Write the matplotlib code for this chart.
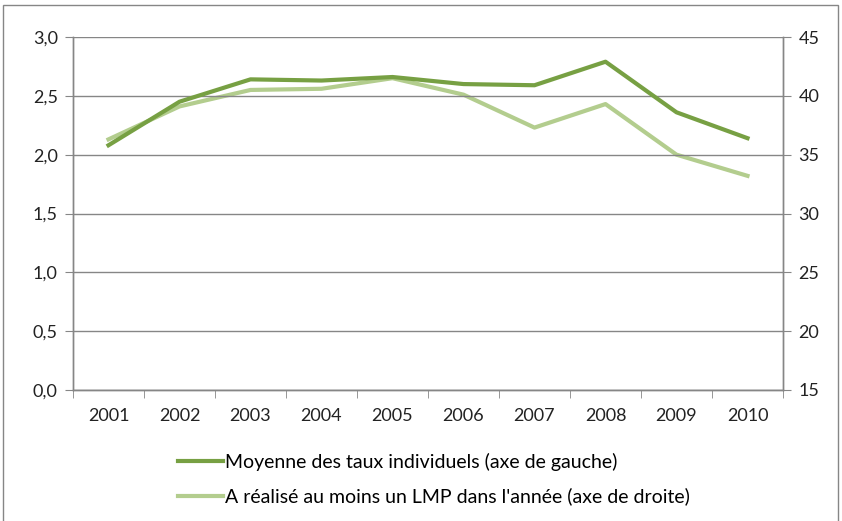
import numpy as np
import matplotlib
matplotlib.use('Agg')
import matplotlib.pyplot as plt
from matplotlib.patches import Rectangle

plt.rcParams['font.family'] = ['Lato', 'DejaVu Sans']

annees = ['2001', '2002', '2003', '2004', '2005', '2006', '2007', '2008', '2009', '2010']
moyenne_taux = [2.08, 2.45, 2.64, 2.63, 2.66, 2.60, 2.59, 2.79, 2.36, 2.14]
lmp_annee = [36.3, 39.1, 40.5, 40.6, 41.5, 40.1, 37.3, 39.3, 35.0, 33.2]

couleur_fonce = '#77a043'
couleur_clair = '#b3cd8e'
gris = '#868686'

fig = plt.figure(figsize=(8.42, 5.21), dpi=100)
ax = fig.add_axes([73 / 842, 131 / 521, 710 / 842, 353 / 521])
ax2 = ax.twinx()

x = np.arange(len(annees))
l1, = ax.plot(x, moyenne_taux, color=couleur_fonce, lw=3, solid_joinstyle='round',
              label='Moyenne des taux individuels (axe de gauche)', zorder=3)
l2, = ax2.plot(x, lmp_annee, color=couleur_clair, lw=3, solid_joinstyle='round',
               label="A réalisé au moins un LMP dans l'année (axe de droite)")
ax.set_zorder(ax2.get_zorder() + 1)
ax.patch.set_visible(False)

ax.set_xlim(-0.5, len(annees) - 0.5)
ax.set_ylim(0, 3.0)
ax2.set_ylim(15, 45)
ax.set_yticks(np.arange(0, 3.01, 0.5))
ax.set_yticklabels([f'{v:.1f}'.replace('.', ',') for v in np.arange(0, 3.01, 0.5)])
ax2.set_yticks(np.arange(15, 46, 5))

ax.set_xticks(x)
ax.set_xticklabels(annees)
ax.set_xticks(np.arange(-0.5, len(annees)), minor=True)
ax.tick_params(axis='x', which='major', length=0, pad=13, labelsize=13, colors='#222222')
ax.tick_params(axis='x', which='minor', length=6, color=gris, direction='out')
ax.tick_params(axis='y', length=6, color=gris, labelsize=13, labelcolor='#222222', pad=5)
ax2.tick_params(axis='y', length=6, color=gris, labelsize=13, labelcolor='#222222', pad=5)

ax.yaxis.grid(True, color=gris, lw=1)
ax.set_axisbelow(True)
for a in (ax, ax2):
    a.spines['top'].set_visible(False)
    for s in ('left', 'right', 'bottom'):
        a.spines[s].set_color(gris)
        a.spines[s].set_linewidth(1)

fig.legend(handles=[l1, l2], loc='upper left', bbox_to_anchor=(178 / 842, 68 / 521),
           frameon=False, fontsize=14, handlelength=2.3, handletextpad=0.1,
           labelspacing=0.85, borderaxespad=0, borderpad=0)

fig.patches.append(Rectangle((3 / 842, -0.05), 835 / 842, 1.04, transform=fig.transFigure,
                             fill=False, edgecolor=gris, lw=1))

fig.savefig('out.png', dpi=100)
